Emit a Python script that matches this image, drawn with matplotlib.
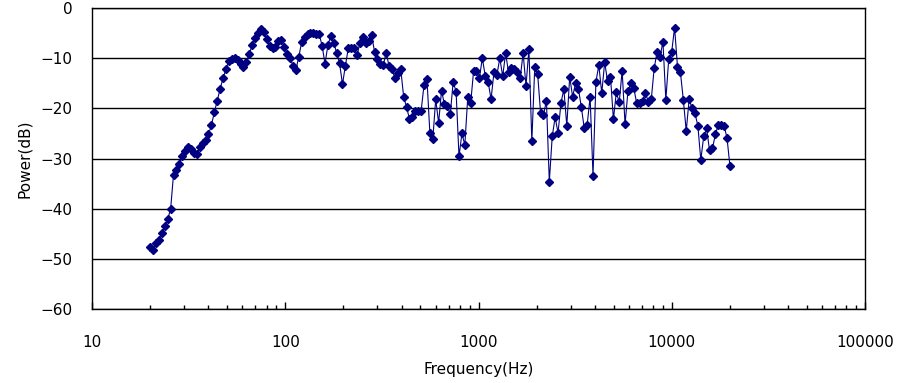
import numpy as np
import matplotlib
matplotlib.use('Agg')
import matplotlib.pyplot as plt
from matplotlib.ticker import LogLocator, FixedLocator, NullFormatter

# band centres, 20 Hz .. 20 kHz (log spaced analysis bands)
freq = np.geomspace(20, 20000, 200)

# power per band (dB)
power = [
    -47.7, -48.2, -46.9, -46.2, -44.8, -43.5, -42.1, -40.1, -33.2, -32.2,
    -31.1, -29.5, -28.6, -27.8, -28.1, -28.9, -29.1, -27.8, -27.0, -26.4,
    -25.2, -23.4, -20.8, -18.5, -16.1, -14.0, -12.2, -10.5, -10.2, -9.9,
    -10.4, -11.2, -11.7, -10.8, -9.2, -7.4, -6.0, -5.0, -4.2, -4.7,
    -6.2, -7.6, -8.0, -7.7, -6.5, -6.4, -7.7, -9.2, -9.9, -11.5,
    -12.4, -9.7, -6.8, -5.8, -5.2, -5.0, -5.0, -5.1, -5.2, -7.5,
    -11.1, -7.4, -5.5, -7.0, -8.9, -11.0, -15.2, -11.5, -8.0, -8.0,
    -8.0, -9.4, -7.0, -5.8, -6.9, -6.5, -5.4, -8.7, -10.2, -11.2,
    -11.4, -8.9, -11.6, -12.2, -14.0, -12.9, -12.2, -17.7, -19.8, -22.1,
    -21.8, -20.5, -20.5, -20.5, -15.3, -14.2, -24.9, -26.2, -18.2, -22.9,
    -16.5, -19.2, -19.5, -21.2, -14.7, -16.7, -29.6, -25.0, -27.3, -17.8,
    -19.0, -12.6, -12.6, -14.0, -10.0, -13.5, -14.7, -18.2, -12.8, -13.4,
    -10.0, -13.6, -9.0, -12.8, -11.9, -12.2, -12.7, -14.0, -9.0, -15.5,
    -8.2, -26.6, -11.8, -13.2, -20.9, -21.3, -18.5, -34.6, -25.6, -21.8,
    -24.9, -18.9, -16.2, -23.5, -13.7, -17.7, -15.0, -16.1, -19.8, -24.0,
    -23.3, -17.7, -33.4, -14.7, -11.4, -17.0, -10.8, -14.6, -13.7, -22.2,
    -16.8, -18.8, -12.5, -23.2, -16.5, -15.0, -16.0, -19.0, -19.0, -18.5,
    -17.0, -18.7, -18.2, -12.0, -8.7, -9.8, -6.7, -18.3, -10.1, -8.8,
    -3.9, -11.7, -12.8, -18.3, -24.5, -18.2, -20.0, -21.0, -23.5, -30.3,
    -25.6, -24.0, -28.4, -28.0, -25.2, -23.3, -23.3, -23.5, -25.9, -31.5,
]

xticks = [10, 100, 1000, 10000, 100000]
xlabels = ['10', '100', '1000', '10000', '100000']
yticks = [0, -10, -20, -30, -40, -50, -60]

plt.rcParams['font.family'] = ['DejaVu Sans']
fig = plt.figure(figsize=(9.05, 3.83), dpi=100)
ax = fig.add_axes([0.1017, 0.1932, 0.8541, 0.7859])

ax.plot(freq, power, color='#000080', lw=0.8, marker='D', markersize=4.5,
        markerfacecolor='#000080', markeredgecolor='#000080')

ax.set_xscale('log')
ax.set_xlim(10, 100000)
ax.set_ylim(-60, 0)
ax.set_yticks(yticks)
ax.set_yticklabels([str(t).replace('-', '\u2212') for t in yticks])
ax.xaxis.set_major_locator(FixedLocator(xticks))
ax.set_xticklabels(xlabels)
ax.xaxis.set_minor_locator(LogLocator(base=10, subs=np.arange(2, 10)))
ax.xaxis.set_minor_formatter(NullFormatter())

ax.grid(axis='y', color='black', lw=1.0)
ax.set_axisbelow(True)
ax.tick_params(axis='x', which='major', direction='in', length=5, width=1,
               pad=19, labelsize=11)
ax.tick_params(axis='x', which='minor', direction='in', length=3, width=1)
ax.tick_params(axis='y', length=0, pad=14, labelsize=11)
for s in ax.spines.values():
    s.set_color('black')
    s.set_linewidth(1.0)

ax.set_xlabel('Frequency(Hz)', fontsize=11, labelpad=8)
ax.set_ylabel('Power(dB)', fontsize=11, labelpad=6)

fig.savefig('out.png', dpi=100)
